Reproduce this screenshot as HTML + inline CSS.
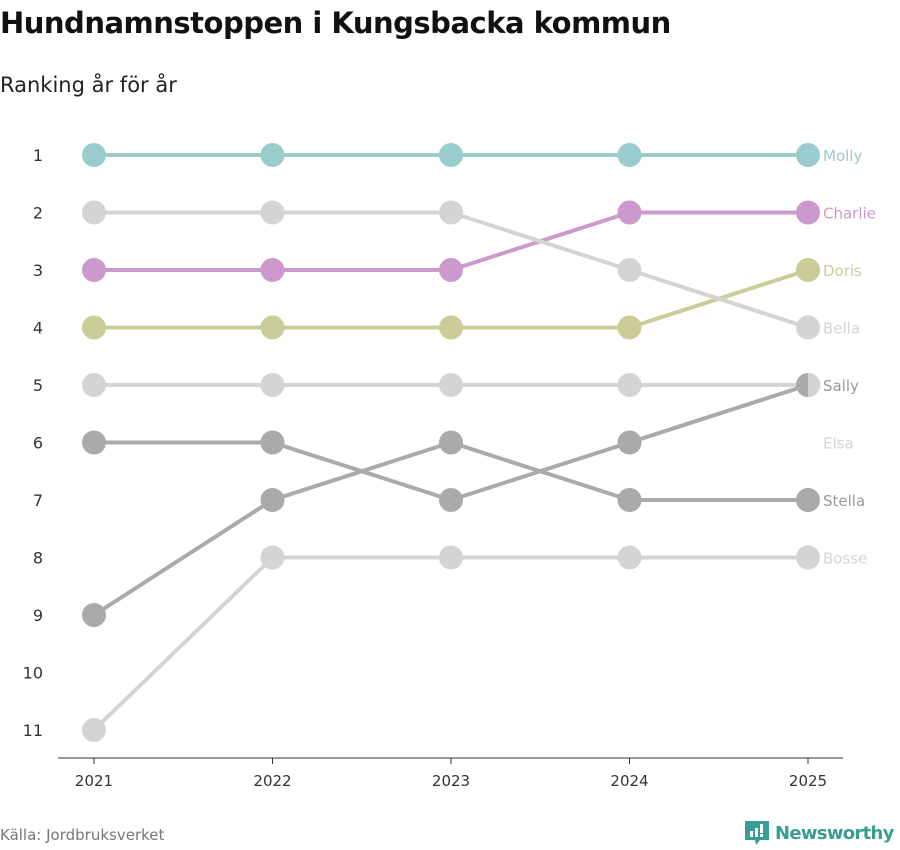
<!DOCTYPE html>
<html><head><meta charset="utf-8"><style>
body{margin:0;background:#fff;width:900px;height:850px;overflow:hidden;font-family:"DejaVu Sans","Liberation Sans",sans-serif}
h1{position:absolute;left:0;top:6px;margin:0;font-size:29px;font-weight:bold;color:#111;letter-spacing:-0.5px}
.sub{position:absolute;left:0;top:73px;font-size:21px;color:#222}
.src{position:absolute;left:0;top:826px;font-size:15px;color:#777}
.logo{position:absolute;left:745px;top:819px;display:flex;align-items:center;color:#3a9d93;font-weight:bold;font-size:18px;letter-spacing:-0.7px;white-space:nowrap}
</style></head><body>
<h1>Hundnamnstoppen i Kungsbacka kommun</h1>
<div class="sub">Ranking år för år</div>
<svg id="chart" width="900" height="850" style="position:absolute;left:0;top:0"></svg>
<div class="src">Källa: Jordbruksverket</div>
<div class="logo"><svg width="24" height="28" viewBox="0 0 24 28"><path d="M0 2h24v19H15l-4 5-1-5H0z" fill="#3a9d93"/><rect x="5" y="12" width="3" height="6" fill="#fff"/><rect x="10" y="9" width="3" height="9" fill="#fff"/><rect x="15" y="5" width="3" height="9" fill="#fff"/><rect x="15" y="15" width="3" height="3" fill="#fff"/></svg><span style="margin-left:6px">Newsworthy</span></div>
<script>
const years=[2021,2022,2023,2024,2025];
const rankTicks=[1,2,3,4,5,6,7,8,9,10,11];
const names=["Molly","Charlie","Doris","Bella","Elsa","Bosse","Stella","Sally"];
const molly=[1,1,1,1,1];
const charlie=[3,3,3,2,2];
const doris=[4,4,4,4,3];
const bella=[2,2,2,3,4];
const elsa=[5,5,5,5,5];
const bosse=[11,8,8,8,8];
const stella=[9,7,6,7,7];
const sally=[6,6,7,6,5];
const series=[molly,charlie,doris,bella,elsa,bosse,stella,sally];
const colors=["#99cccc","#cc99cc","#cccc99","#d4d4d4","#d4d4d4","#d4d4d4","#aaaaaa","#aaaaaa"];
const labelColors=["#99cccc","#cc99cc","#cccc99","#d4d4d4","#d4d4d4","#d4d4d4","#999","#999"];
const x=i=>94+i*(808-94)/(years.length-1);
const y=r=>155+(r-1)*57.5;
const svg=document.getElementById('chart');const NS="http://www.w3.org/2000/svg";
function mk(t,a){const e=document.createElementNS(NS,t);for(const k in a)e.setAttribute(k,a[k]);svg.appendChild(e);return e;}
rankTicks.forEach(r=>{const t=mk('text',{x:43,y:y(r)+6,'text-anchor':'end','font-size':16,fill:'#333'});t.textContent=r;

});
const ax=mk('line',{x1:58,x2:843,y1:758,y2:758,stroke:'#333','stroke-width':1});


years.forEach((yr,i)=>{mk('line',{x1:x(i),x2:x(i),y1:758,y2:764,stroke:'#333'});const t=mk('text',{x:x(i),y:786,'text-anchor':'middle','font-size':15,fill:'#333'});t.textContent=yr;

});
series.forEach((s,k)=>{
 const pts=s.map((r,i)=>x(i)+','+y(r)).join(' ');
 const pl=mk('polyline',{points:pts,fill:'none',stroke:colors[k],'stroke-width':4});
 
 
 s.forEach((r,i)=>{const c=mk('circle',{cx:x(i),cy:y(r),r:12,fill:colors[k]});
  
  });
});
const last=years.length-1;
if(sally[last]===elsa[last]){const cx=x(last),cy=y(sally[last]);
 const h=mk('path',{d:`M${cx} ${cy-12}A12 12 0 0 1 ${cx} ${cy+12}Z`,fill:'#d4d4d4'});
 
 }
const order=[0,1,2,3,7,4,6,5];
const taken=new Set();
order.forEach(k=>{let r=series[k][last];while(taken.has(r))r++;taken.add(r);
 const t=mk('text',{x:x(last)+15,y:y(r)+6,'font-size':15,fill:labelColors[k]});t.textContent=names[k];
 
 });
</script>
</body></html>
